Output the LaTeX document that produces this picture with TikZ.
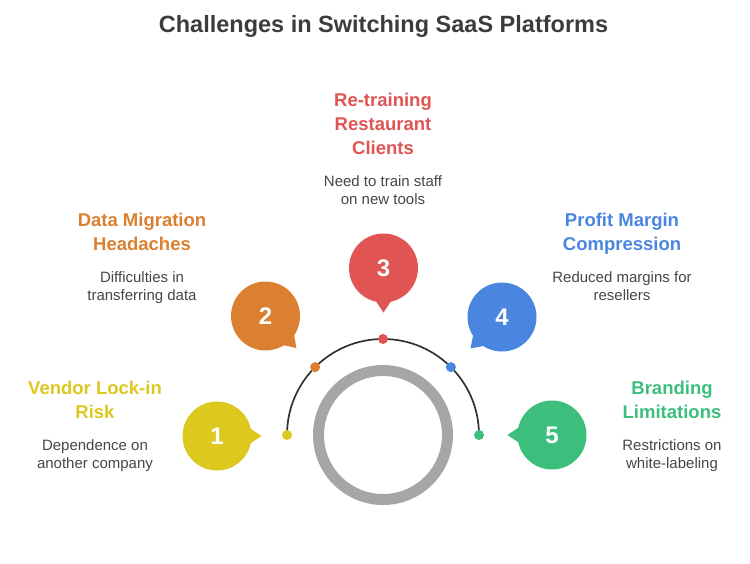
\documentclass[tikz,border=0pt]{standalone}
\usepackage{fontspec}
\setmainfont{Liberation Sans}
\usetikzlibrary{positioning,calc}
\definecolor{TitleGray}{RGB}{60,60,60}
\definecolor{DescGray}{RGB}{70,70,70}
\definecolor{RingGray}{RGB}{166,166,166}
\definecolor{ArcGray}{RGB}{50,50,50}
\definecolor{CYellow}{RGB}{221,200,30}
\definecolor{COrange}{RGB}{219,128,48}
\definecolor{CRed}{RGB}{224,84,84}
\definecolor{CBlue}{RGB}{74,134,224}
\definecolor{CGreen}{RGB}{60,190,125}

\begin{document}
\begin{tikzpicture}[
x=1pt,y=1pt,
bubble/.style={circle,minimum size=69pt,inner sep=0,text=white,font=\fontsize{24}{24}\selectfont\bfseries},
dot/.style={circle,minimum size=10pt,inner sep=0},
head/.style={anchor=north,align=center,inner sep=0,font=\fontsize{18.5}{24}\selectfont\bfseries},
desc/.style={anchor=north,align=center,inner sep=0,text=DescGray,font=\fontsize{15}{18}\selectfont}
]
\useasboundingbox (0,0) rectangle (750,-563);
\node[text=TitleGray,font=\fontsize{23.5}{28}\selectfont\bfseries] (title) at (383.5,-26.5) {Challenges in Switching SaaS Platforms};
% hub ring and arc
\coordinate (hub) at (383,-435);
\draw[RingGray,line width=11pt] (hub) circle (64.5);
\draw[ArcGray,line width=1.7pt] ($(hub)+(180:96)$) arc (180:0:96);
% bubbles with tails and dots
\foreach \i/\ang/\col/\bx/\by/\ta in {1/180/CYellow/217/436/0,2/135/COrange/265.5/316/-46,3/90/CRed/383.5/268/-90,4/45/CBlue/502/317/-135,5/0/CGreen/552/435/180}{
  \node[dot,fill=\col] (d\i) at ($(hub)+(\ang:96)$) {};
  \node[bubble,fill=\col] (b\i) at (\bx,-\by) {\i};
  \fill[\col] ($(b\i)+(\ta+22:30)$) -- ($(b\i)+(\ta:44.5)$) -- ($(b\i)+(\ta-22:30)$) -- cycle;
}
% labels
\node[head,text=CYellow] (h1) at (95,-381) {Vendor Lock-in\\Risk};
\node[desc] (t1) at (95,-439.5) {Dependence on\\another company};
\node[head,text=COrange] (h2) at (142,-213) {Data Migration\\Headaches};
\node[desc] (t2) at (142,-271.5) {Difficulties in\\transferring data};
\node[head,text=CRed] (h3) at (383,-93) {Re-training\\Restaurant\\Clients};
\node[desc] (t3) at (383,-175.5) {Need to train staff\\on new tools};
\node[head,text=CBlue] (h4) at (622,-213) {Profit Margin\\Compression};
\node[desc] (t4) at (622,-271.5) {Reduced margins for\\resellers};
\node[head,text=CGreen] (h5) at (672,-381) {Branding\\Limitations};
\node[desc] (t5) at (672,-439.5) {Restrictions on\\white-labeling};
\end{tikzpicture}
\end{document}
